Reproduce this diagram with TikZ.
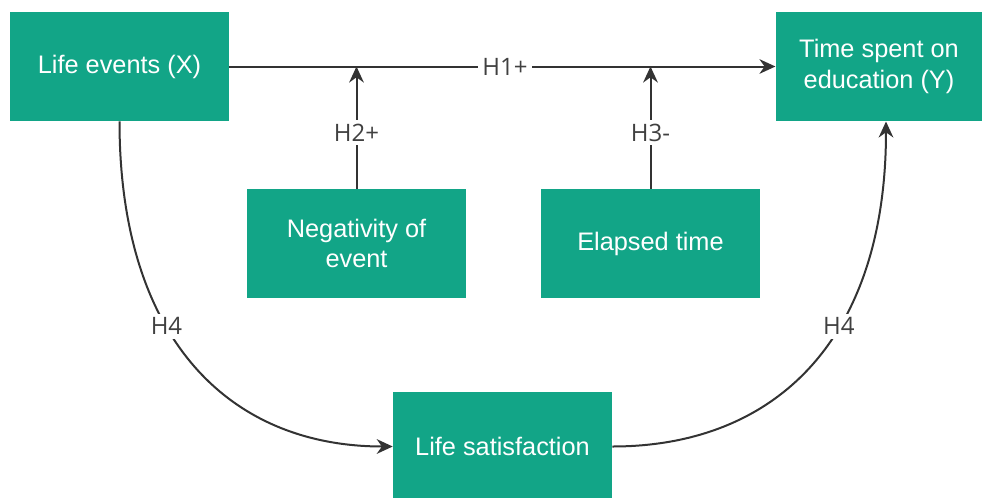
\documentclass[tikz,border=0pt]{standalone}
\usepackage{fontspec}
\setmainfont{Liberation Sans}
\newfontfamily\labfont{Open Sans}
\usetikzlibrary{arrows.meta}
\definecolor{boxteal}{HTML}{12A587}
\definecolor{linegray}{HTML}{333333}
\definecolor{labgray}{HTML}{404040}
\tikzset{
  box/.style={draw=none, fill=boxteal, text=white, minimum width=164.25pt, minimum height=81.75pt, inner sep=0pt, align=center, font=\fontsize{19}{23}\selectfont},
  conn/.style={draw=linegray, line width=1.5pt, -{Stealth[length=12pt,width=11pt]}},
  lab/.style={fill=white, text=labgray, inner sep=3pt, font=\labfont\fontsize{18}{22}\selectfont}
}
\begin{document}
\begin{tikzpicture}[x=0.75pt,y=-0.75pt]
\useasboundingbox (0,0) rectangle (982,497);
\node[box] (X) at (119.5,66.5) {Life events (X)};
\node[box, minimum width=155pt] (Y) at (879,66.5) {Time spent on\\education (Y)};
\node[box] (N) at (356.5,243.5) {Negativity of\\event};
\node[box] (E) at (650.5,243.5) {Elapsed time};
\node[box] (L) at (502.5,446.5) {Life satisfaction};
\coordinate (m2) at (356.5,66.5);
\coordinate (m3) at (650.5,66.5);
\coordinate (ys) at (886,121.5);
\draw[conn] (X.east) -- node[lab, pos=0.505]{H1+} (Y.west);
\draw[conn] (N.north) -- node[lab, pos=0.46]{H2+} (m2);
\draw[conn] (E.north) -- node[lab, pos=0.46]{H3-} (m3);
\draw[conn] (X.south) .. controls (119.5,340) and (230,446.5) .. node[lab, pos=0.39]{H4} (L.west);
\draw[conn] (L.east) .. controls (775,446.5) and (886,340) .. node[lab, pos=0.61]{H4} (ys);
\end{tikzpicture}
\end{document}
